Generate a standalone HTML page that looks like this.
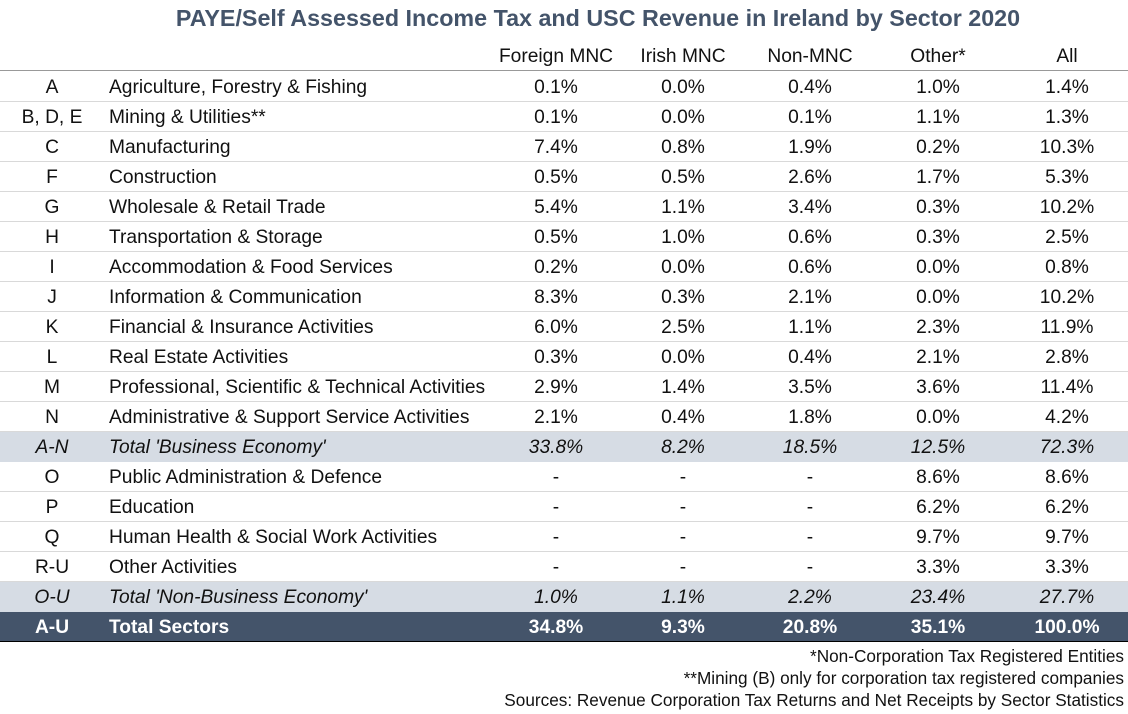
<!DOCTYPE html>
<html><head><meta charset="utf-8"><style>
body{margin:0;width:1128px;height:711px;background:#fff;font-family:"Liberation Sans",sans-serif;color:#111;overflow:hidden;position:relative}
.t{position:absolute;white-space:nowrap;font-size:19.2px;line-height:30px}
.c{text-align:center;transform:translateX(-50%)}
.row{position:absolute;left:0;width:1128px;height:30px;border-bottom:1px solid #d9d9d9;box-sizing:border-box}
.fn{position:absolute;right:4px;white-space:nowrap;font-size:17.2px;line-height:28px}
</style></head><body>
<div class="t c" style="left:598px;top:3px;font-size:23.3px;font-weight:bold;color:#44546A">PAYE/Self Assessed Income Tax and USC Revenue in Ireland by Sector 2020</div>
<div id="tbl"></div>
<div style="position:absolute;left:0;top:70px;width:1128px;height:1px;background:#999"></div>
<div class="fn" style="top:642px">*Non-Corporation Tax Registered Entities</div>
<div class="fn" style="top:664px">**Mining (B) only for corporation tax registered companies</div>
<div class="fn" style="top:686px">Sources: Revenue Corporation Tax Returns and Net Receipts by Sector Statistics</div>
<script>
const headers=["Foreign MNC","Irish MNC","Non-MNC","Other*","All"];
const codes=["A","B, D, E","C","F","G","H","I","J","K","L","M","N","A-N","O","P","Q","R-U","O-U","A-U"];
const names=["Agriculture, Forestry & Fishing","Mining & Utilities**","Manufacturing","Construction","Wholesale & Retail Trade","Transportation & Storage","Accommodation & Food Services","Information & Communication","Financial & Insurance Activities","Real Estate Activities","Professional, Scientific & Technical Activities","Administrative & Support Service Activities","Total 'Business Economy'","Public Administration & Defence","Education","Human Health & Social Work Activities","Other Activities","Total 'Non-Business Economy'","Total Sectors"];
const foreignMNC=["0.1%","0.1%","7.4%","0.5%","5.4%","0.5%","0.2%","8.3%","6.0%","0.3%","2.9%","2.1%","33.8%","-","-","-","-","1.0%","34.8%"];
const irishMNC=["0.0%","0.0%","0.8%","0.5%","1.1%","1.0%","0.0%","0.3%","2.5%","0.0%","1.4%","0.4%","8.2%","-","-","-","-","1.1%","9.3%"];
const nonMNC=["0.4%","0.1%","1.9%","2.6%","3.4%","0.6%","0.6%","2.1%","1.1%","0.4%","3.5%","1.8%","18.5%","-","-","-","-","2.2%","20.8%"];
const other=["1.0%","1.1%","0.2%","1.7%","0.3%","0.3%","0.0%","0.0%","2.3%","2.1%","3.6%","0.0%","12.5%","8.6%","6.2%","9.7%","3.3%","23.4%","35.1%"];
const all=["1.4%","1.3%","10.3%","5.3%","10.2%","2.5%","0.8%","10.2%","11.9%","2.8%","11.4%","4.2%","72.3%","8.6%","6.2%","9.7%","3.3%","27.7%","100.0%"];
const colX=[556,683,810,938,1067];
const tbl=document.getElementById('tbl');
function txt(s,x,y,center,name){const d=document.createElement('div');d.className='t'+(center?' c':'');d.textContent=s;d.style.left=x+'px';d.style.top=y+'px';


tbl.appendChild(d);return d;}
headers.forEach((h,i)=>txt(h,colX[i],42,true,'column-header'));
const series=[foreignMNC,irishMNC,nonMNC,other,all];
codes.forEach((c,r)=>{
 const y=72+r*30;
 const row=document.createElement('div');row.className='row';row.style.top=y+'px';
 
 
 const sub=(c==='A-N'||c==='O-U'), tot=(c==='A-U');
 if(sub){row.style.background='#D6DCE4';row.style.borderBottom='none';}
 if(tot){row.style.background='#44546A';row.style.borderBottom='1px solid #000';}
 tbl.appendChild(row);
 const els=[txt(c,52,y+1,true,'sector-code'),txt(names[r],109,y+1,false,'sector-name')];
 series.forEach((s,i)=>els.push(txt(s[r],colX[i],y+1,true,'cell-value')));
 els.forEach(e=>{if(sub)e.style.fontStyle='italic';if(tot){e.style.color='#fff';e.style.fontWeight='bold';}});
});
</script>
</body></html>
